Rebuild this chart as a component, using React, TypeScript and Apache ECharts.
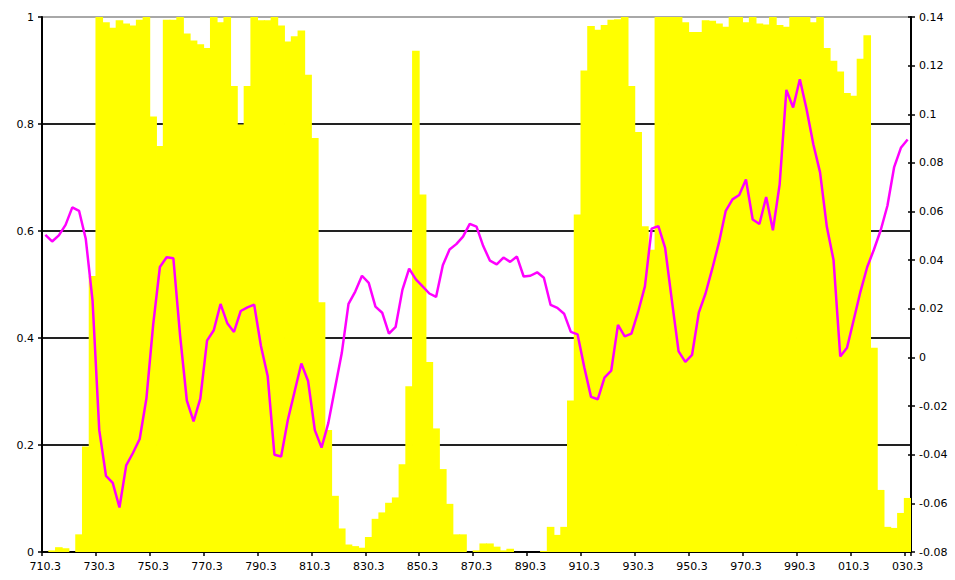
import React, { useEffect, useRef } from "react";
import * as echarts from "echarts";

const tickLabels = [
  "710.3", "730.3", "750.3", "770.3", "790.3", "810.3", "830.3", "850.3", "870.3",
  "890.3", "910.3", "930.3", "950.3", "970.3", "990.3", "010.3", "030.3",
];

const barCount = 129;
const categories = Array.from({ length: barCount }, (_, i) => (710.3 + 2.5 * i).toFixed(1));

const barValues = [
  0, 0.003, 0.009, 0.007, 0, 0.033, 0.197, 0.516, 1.0, 0.99,
  0.98, 0.994, 0.988, 0.984, 0.995, 1.0, 0.814, 0.759, 0.995, 0.995,
  1.0, 0.969, 0.956, 0.949, 0.942, 1.0, 0.99, 1.0, 0.871, 0.799,
  0.871, 1.0, 0.994, 0.994, 1.0, 0.984, 0.954, 0.964, 0.975, 0.892,
  0.774, 0.467, 0.228, 0.105, 0.044, 0.014, 0.011, 0.008, 0.028, 0.062,
  0.074, 0.092, 0.102, 0.164, 0.31, 0.937, 0.668, 0.355, 0.231, 0.155,
  0.09, 0.033, 0.033, 0, 0.003, 0.016, 0.016, 0.01, 0.003, 0.006,
  0, 0, 0, 0, 0.002, 0.047, 0.032, 0.047, 0.283, 0.631,
  0.9, 0.983, 0.976, 0.985, 0.995, 0.996, 1.0, 0.871, 0.785, 0.609,
  0.565, 1.0, 1.0, 1.0, 1.0, 0.99, 0.972, 0.972, 0.994, 0.993,
  0.988, 0.982, 1.0, 1.0, 0.99, 1.0, 0.988, 0.986, 1.0, 0.985,
  0.982, 1.0, 1.0, 1.0, 0.99, 1.0, 0.942, 0.918, 0.898, 0.858,
  0.853, 0.922, 0.966, 0.382, 0.116, 0.047, 0.045, 0.073, 0.101,
];

const lineValues = [
  0.0504, 0.0477, 0.0502, 0.0545, 0.0617, 0.0603, 0.0487, 0.0235, -0.0299, -0.0487,
  -0.0516, -0.0617, -0.0444, -0.0393, -0.0335, -0.0169, 0.0134, 0.0372, 0.0412, 0.0408,
  0.009, -0.0177, -0.0263, -0.0169, 0.0069, 0.0112, 0.022, 0.0141, 0.0105, 0.0191,
  0.0206, 0.0217, 0.0047, -0.0076, -0.04, -0.0407, -0.0256, -0.014, -0.0025, -0.0097,
  -0.0299, -0.0371, -0.027, -0.0126, 0.0018, 0.022, 0.0271, 0.0336, 0.0307, 0.0209,
  0.0184, 0.0098, 0.0126, 0.0278, 0.0365, 0.0321, 0.0292, 0.0263, 0.0249, 0.0379,
  0.0444, 0.0466, 0.0497, 0.0549, 0.0538, 0.0458, 0.0398, 0.0383, 0.0411, 0.0393,
  0.0415, 0.0333, 0.0336, 0.035, 0.0328, 0.0216, 0.0204, 0.018, 0.0105, 0.0095,
  -0.004, -0.0162, -0.0172, -0.0083, -0.0054, 0.0134, 0.0087, 0.0098, 0.0188, 0.0292,
  0.053, 0.054, 0.0451, 0.0235, 0.0025, -0.0018, 0.0011, 0.0184, 0.0263, 0.0365,
  0.0473, 0.0603, 0.065, 0.0668, 0.0732, 0.0567, 0.0549, 0.066, 0.0523, 0.0711,
  0.11, 0.1028, 0.1144, 0.1021, 0.0877, 0.0761, 0.0538, 0.0401, 0.0004, 0.004,
  0.0155, 0.0271, 0.0372, 0.0444, 0.0523, 0.0624, 0.0783, 0.0862, 0.0896,
];

const FONT = "DejaVu Sans";
const fmt = (v: number) => String(parseFloat(Number(v).toFixed(2)));

export default function App() {
  const ref = useRef<HTMLDivElement>(null);
  useEffect(() => {
    if (!ref.current) return;
    const chart = echarts.init(ref.current, undefined, { renderer: "svg" });
    chart.setOption({
      animation: false,
      backgroundColor: "#ffffff",
      grid: { left: 42, right: 44, top: 17, bottom: 28, containLabel: false },
      xAxis: {
        type: "category",
        data: categories,
        boundaryGap: true,
        axisLine: { show: true, lineStyle: { color: "#000", width: 2 } },
        axisTick: { show: true, interval: 7, length: 4, lineStyle: { color: "#000", width: 1.5 } },
        axisLabel: {
          interval: 7,
          margin: 9,
          color: "#000",
          fontSize: 11,
          fontFamily: FONT,
          formatter: (_v: string, idx: number) => tickLabels[Math.round(idx / 8)] ?? "",
        },
        splitLine: { show: false },
      },
      yAxis: [
        {
          type: "value",
          position: "left",
          min: 0,
          max: 1,
          interval: 0.2,
          axisLine: { show: true, lineStyle: { color: "#000", width: 2 } },
          axisTick: { show: true, length: 4, lineStyle: { color: "#000", width: 1.5 } },
          axisLabel: { color: "#000", fontSize: 11, fontFamily: FONT, margin: 8, formatter: fmt },
          splitLine: {
            show: true,
            lineStyle: { color: ["#000", "#222", "#222", "#222", "#222", "#a8a8a8"], width: 2 },
          },
        },
        {
          type: "value",
          position: "right",
          min: -0.08,
          max: 0.14,
          interval: 0.02,
          axisLine: { show: true, lineStyle: { color: "#000", width: 2 } },
          axisTick: { show: true, length: 4, lineStyle: { color: "#000", width: 1.5 } },
          axisLabel: { color: "#000", fontSize: 11, fontFamily: FONT, margin: 8, formatter: fmt },
          splitLine: { show: false },
        },
        {
          type: "value",
          position: "right",
          min: -0.08,
          max: 0.14,
          interval: 0.02,
          axisLine: { show: false },
          axisTick: { show: true, inside: true, length: 3, lineStyle: { color: "#000", width: 1.5 } },
          axisLabel: { show: false },
          splitLine: { show: false },
        },
      ],
      series: [
        {
          type: "bar",
          yAxisIndex: 0,
          data: barValues,
          barWidth: 7.6,
          itemStyle: { color: "#ffff00", borderWidth: 0 },
          z: 2,
        },
        {
          type: "line",
          yAxisIndex: 1,
          data: lineValues,
          showSymbol: false,
          symbol: "none",
          lineStyle: { color: "#ff00ff", width: 2.5 },
          z: 3,
        },
      ],
    });
    return () => chart.dispose();
  }, []);
  return (
    <div
      ref={ref}
      style={{ position: "fixed", left: 0, top: 0, width: 955, height: 580, background: "#fff" }}
    />
  );
}
